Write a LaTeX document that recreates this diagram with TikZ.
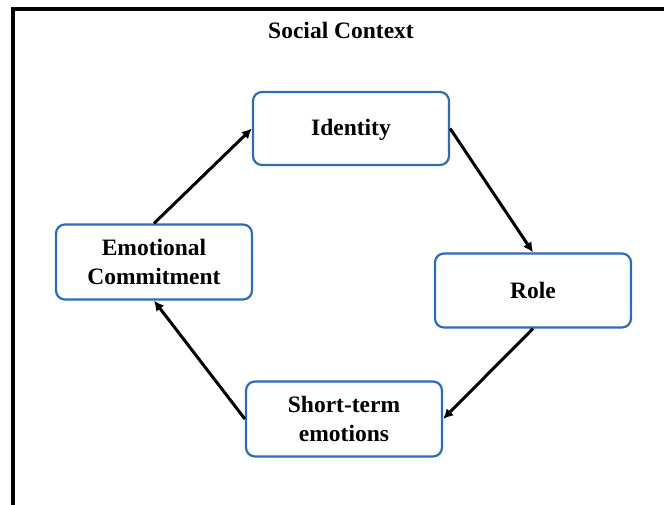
\documentclass[tikz,border=0pt]{standalone}
\usepackage{fontspec}
\setmainfont{Liberation Serif}
\usetikzlibrary{arrows.meta}
\definecolor{boxblue}{RGB}{46,108,180}
\tikzset{
  stagebox/.style={draw=boxblue, line width=2.2pt, rounded corners=9pt, fill=white,
    minimum width=196pt, minimum height=73pt, align=center,
    font=\fontsize{23.5}{29}\selectfont\bfseries},
  flow/.style={line width=3pt, -{Latex[length=10pt,width=10pt]}},
}
\begin{document}
\begin{tikzpicture}[x=1pt,y=-1pt]
  \useasboundingbox (0,0) rectangle (664,505);
  % outer frame of the social context
  \draw[line width=3.4pt] (13,506) -- (13,9) -- (666,9);
  \node[font=\fontsize{23.5}{29}\selectfont\bfseries] (ctx) at (341,30) {Social Context};
  % the four stages
  \node[stagebox, text depth=3pt] (identity) at (351,128.5) {Identity};
  \node[stagebox, minimum height=74pt] (role) at (533,290.5) {Role};
  \node[stagebox, minimum height=75pt] (short) at (344,419) {Short-term\\emotions};
  \node[stagebox, minimum height=75pt] (emo) at (154,262) {Emotional\\Commitment};
  % cycle connectors
  \draw[flow] (emo.north) -- (identity.west);
  \draw[flow] (identity.east) -- (role.north);
  \draw[flow] (role.south) -- (short.east);
  \draw[flow] (short.west) -- (emo.south);
\end{tikzpicture}
\end{document}
